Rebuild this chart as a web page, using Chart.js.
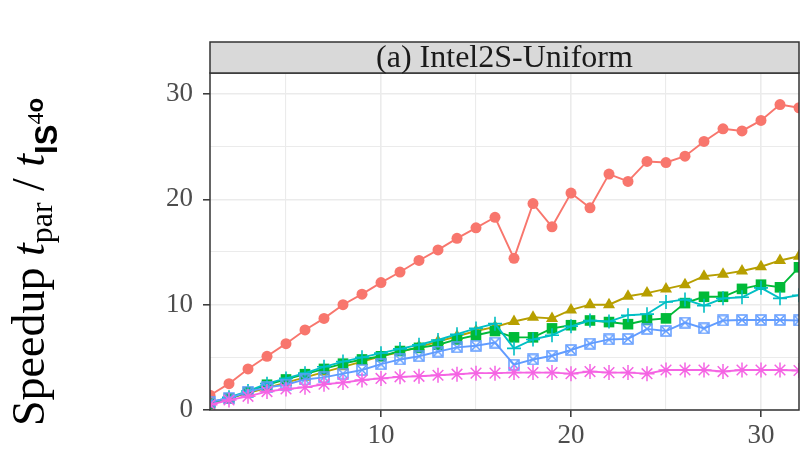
<!DOCTYPE html>
<html>
<head>
<meta charset="utf-8">
<script src="https://cdn.jsdelivr.net/npm/chart.js@4"></script>
<style>
  html, body { margin: 0; padding: 0; background: #fff; }
  #wrap { width: 808px; height: 452px; position: relative; }
</style>
</head>
<body>
<div id="wrap"><canvas id="cnv" width="808" height="452"></canvas></div>
<script>
'use strict';
// Speedup vs. number of threads, panel (a) Intel2S-Uniform.

const threads = Array.from({ length: 32 }, (_, i) => i + 1);
const panelTitle = '(a) Intel2S-Uniform';
const xTicks = [5, 10, 15, 20, 25, 30];
const yTicks = [0, 5, 10, 15, 20, 25, 30];

const seriesNames = ['Series 1', 'Series 2', 'Series 3', 'Series 4', 'Series 5', 'Series 6'];
const red     = [1.4, 2.5, 3.9, 5.1, 6.3, 7.6, 8.7, 10.0, 11.0, 12.1, 13.1, 14.2, 15.2, 16.3, 17.3, 18.3,
                 14.4, 19.6, 17.4, 20.6, 19.2, 22.4, 21.7, 23.6, 23.5, 24.1, 25.5, 26.7, 26.5, 27.5, 29.0, 28.7];
const olive   = [0.6, 1.1, 1.6, 2.1, 2.6, 3.1, 3.6, 4.1, 4.6, 5.1, 5.5, 6.0, 6.5, 7.0, 7.5, 7.9,
                 8.4, 8.8, 8.7, 9.5, 10.0, 10.0, 10.8, 11.1, 11.5, 11.9, 12.7, 12.9, 13.2, 13.6, 14.2, 14.6];
const green   = [0.6, 1.1, 1.7, 2.4, 2.9, 3.4, 3.9, 4.4, 4.8, 5.1, 5.6, 5.9, 6.2, 6.7, 7.1, 7.5,
                 6.9, 6.9, 7.75, 8.05, 8.5, 8.35, 8.15, 8.55, 8.7, 10.15, 10.75, 10.75, 11.5, 11.9, 11.65, 13.55];
const cyan    = [0.7, 1.2, 1.8, 2.5, 3.0, 3.5, 4.1, 4.6, 5.0, 5.4, 5.8, 6.2, 6.65, 7.2, 7.75, 8.2,
                 5.85, 6.7, 7.1, 7.95, 8.5, 8.4, 9.0, 9.1, 10.25, 10.5, 9.9, 10.6, 10.7, 11.6, 10.6, 10.9];
const blue    = [0.8, 1.1, 1.75, 2.15, 2.4, 2.9, 3.1, 3.45, 3.8, 4.35, 4.8, 5.1, 5.55, 5.95, 6.1, 6.4,
                 4.3, 4.8, 5.15, 5.7, 6.3, 6.7, 6.75, 7.7, 7.5, 8.3, 7.75, 8.5, 8.55, 8.55, 8.55, 8.5];
const magenta = [0.5, 0.95, 1.3, 1.75, 2.0, 2.15, 2.45, 2.6, 2.85, 3.0, 3.15, 3.2, 3.3, 3.4, 3.5, 3.5,
                 3.55, 3.55, 3.55, 3.45, 3.65, 3.55, 3.55, 3.45, 3.8, 3.8, 3.8, 3.65, 3.8, 3.8, 3.8, 3.75];

const seriesValues = [red, olive, green, cyan, blue, magenta];

// ggplot default hue palette + default shape order (16, 17, 15, 3, 7, 8)
const colors = ['#F8766D', '#B79F00', '#00BA38', '#00BFC4', '#619CFF', '#F564E3'];

function squareX(color, size) {
  const c = document.createElement('canvas');
  c.width = c.height = size;
  const g = c.getContext('2d');
  g.strokeStyle = color; g.lineWidth = 1.5;
  g.strokeRect(1, 1, size - 2, size - 2);
  g.beginPath();
  g.moveTo(2, 2); g.lineTo(size - 2, size - 2);
  g.moveTo(size - 2, 2); g.lineTo(2, size - 2);
  g.stroke();
  return c;
}

const markers = [
  { pointStyle: 'circle',   pointRadius: 5.5, pointBorderWidth: 0 },
  { pointStyle: 'triangle', pointRadius: 7,   pointBorderWidth: 0 },
  { pointStyle: 'rect',     pointRadius: 7.5, pointBorderWidth: 0 },
  { pointStyle: 'cross',    pointRadius: 7,   pointBorderWidth: 1.6 },
  { pointStyle: squareX(colors[4], 12), pointRadius: 6, pointBorderWidth: 0 },
  { pointStyle: 'star',     pointRadius: 7.5, pointBorderWidth: 1.5 },
];

const datasets = seriesValues.map((vals, i) => ({
  label: seriesNames[i],
  data: threads.map((t, k) => ({ x: t, y: vals[k] })),
  borderColor: colors[i],
  backgroundColor: colors[i],
  pointBackgroundColor: colors[i],
  pointBorderColor: colors[i],
  borderWidth: 1.9,
  tension: 0,
  clip: 0,
  order: 5 - i,
  ...markers[i],
}));

// facet strip + panel border
const stripPlugin = {
  id: 'strip',
  afterDatasetsDraw(chart) {
    const { ctx, chartArea: a } = chart;
    ctx.save();
    ctx.strokeStyle = '#333333';
    ctx.lineWidth = 1.5;
    ctx.strokeRect(a.left, a.top, a.right - a.left, a.bottom - a.top);
    ctx.fillStyle = '#D9D9D9';
    ctx.fillRect(a.left, 42, a.right - a.left, a.top - 42);
    ctx.strokeRect(a.left, 42, a.right - a.left, a.top - 42);
    ctx.fillStyle = '#1A1A1A';
    ctx.font = '32px "Liberation Serif"';
    ctx.textAlign = 'center';
    ctx.textBaseline = 'middle';
    ctx.fillText(panelTitle, (a.left + a.right) / 2, (42 + a.top) / 2 + 1);
    ctx.restore();
  }
};

// y axis title: Speedup t_par / t_IS⁴o
const yTitlePlugin = {
  id: 'ytitle',
  afterDraw(chart) {
    const ctx = chart.ctx;
    const parts = [
      { s: 'Speedup ', f: '46px "Liberation Serif"', dy: 0 },
      { s: 't', f: 'italic 46px "Liberation Serif"', dy: 0 },
      { s: 'par', f: '32px "Liberation Serif"', dy: 8 },
      { s: ' / ', f: '46px "Liberation Serif"', dy: 0 },
      { s: 't', f: 'italic 46px "Liberation Serif"', dy: 0 },
      { s: 'IS', f: 'bold 31px "Liberation Sans"', dy: 13 },
      { s: '4', f: '24px "Liberation Serif"', dy: -1 },
      { s: 'o', f: 'bold 24px "Liberation Sans"', dy: -1 },
    ];
    ctx.save();
    ctx.translate(44, 426);
    ctx.rotate(-Math.PI / 2);
    ctx.fillStyle = '#000';
    ctx.textBaseline = 'alphabetic';
    ctx.textAlign = 'left';
    let x = 0;
    parts.forEach((p) => {
      ctx.font = p.f;
      ctx.fillText(p.s, x, p.dy);
      x += ctx.measureText(p.s).width;
    });
    ctx.restore();
  }
};

const tickFont = { family: 'Liberation Serif', size: 27 };
const major = (v) => v % 10 === 0;

new Chart(document.getElementById('cnv').getContext('2d'), {
  type: 'line',
  data: { datasets },
  options: {
    responsive: false,
    animation: false,
    events: [],
    layout: { padding: { left: 0, top: 73, right: 2, bottom: 0 } },
    plugins: { legend: { display: false }, tooltip: { enabled: false } },
    scales: {
      x: {
        type: 'linear', min: 1, max: 32,
        afterBuildTicks: (s) => { s.ticks = xTicks.map((v) => ({ value: v })); },
        afterFit: (s) => { s.height = 42; },
        border: { display: false },
        grid: {
          color: '#EBEBEB',
          lineWidth: (c) => (c.tick && major(c.tick.value) ? 1.6 : 1.1),
          tickColor: (c) => (c.tick && major(c.tick.value) ? '#333333' : 'rgba(0,0,0,0)'),
          tickLength: 7, tickWidth: 1.5,
        },
        ticks: {
          font: tickFont, color: '#4D4D4D', padding: 3, maxRotation: 0,
          callback: (v) => (major(v) ? String(v) : ''),
        },
      },
      y: {
        type: 'linear', min: 0, max: 32,
        afterBuildTicks: (s) => { s.ticks = yTicks.map((v) => ({ value: v })); },
        afterFit: (s) => { s.width = 210; },
        border: { display: false },
        grid: {
          color: '#EBEBEB',
          lineWidth: (c) => (c.tick && major(c.tick.value) ? 1.6 : 1.1),
          tickColor: (c) => (c.tick && major(c.tick.value) ? '#333333' : 'rgba(0,0,0,0)'),
          tickLength: 7, tickWidth: 1.5,
        },
        ticks: {
          font: tickFont, color: '#4D4D4D', padding: 10,
          callback: (v) => (major(v) ? String(v) : ''),
        },
      },
    },
  },
  plugins: [stripPlugin, yTitlePlugin],
});
</script>
</body>
</html>
